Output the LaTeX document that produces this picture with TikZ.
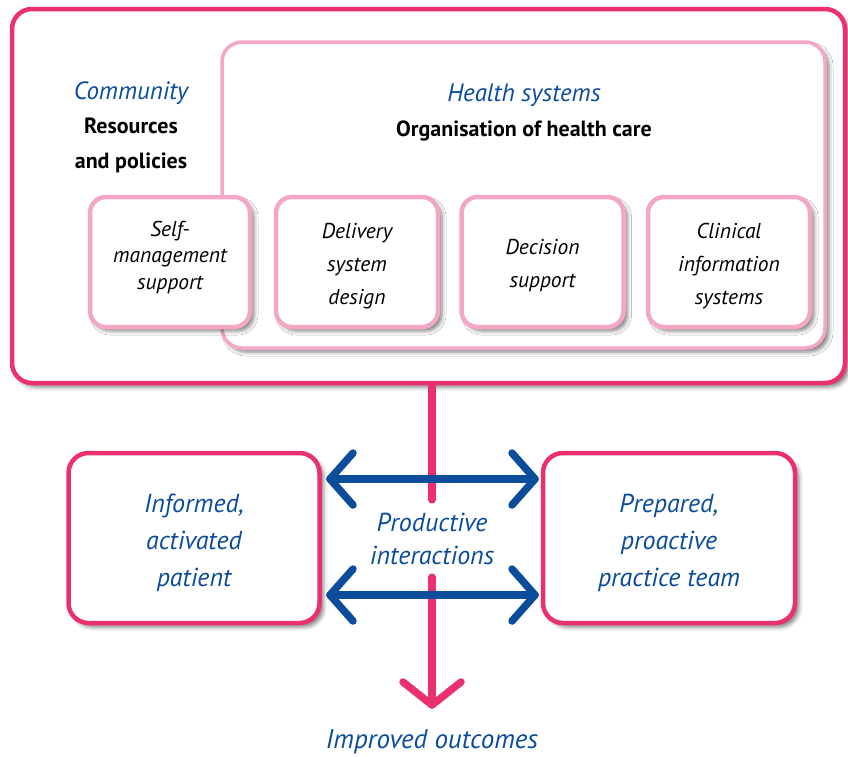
\documentclass[tikz,border=0pt]{standalone}
\usepackage{fontspec}
\setmainfont{PT Sans}
\usetikzlibrary{shadows.blur}
\definecolor{deeppink}{HTML}{EA3071}
\definecolor{lightpink}{HTML}{F3A6C6}
\definecolor{hblue}{HTML}{0B4C9B}
\tikzset{
  myshadow/.style={blur shadow={shadow xshift=4pt, shadow yshift=-4pt, shadow blur radius=4pt, shadow opacity=50}},
  outerbox/.style={draw=deeppink, line width=4.5pt, rounded corners=20pt, fill=white, myshadow},
  healthbox/.style={draw=lightpink, line width=3.5pt, rounded corners=20pt, fill=white, myshadow},
  compbox/.style={draw=lightpink, line width=4.5pt, rounded corners=16pt, fill=white, myshadow,
    minimum width=162pt, minimum height=130pt, inner sep=0pt},
  comptext/.style={align=center, inner sep=0pt, font=\fontsize{21.5}{33}\selectfont\itshape},
  actorbox/.style={draw=deeppink, line width=4.5pt, rounded corners=20pt, fill=white, myshadow,
    minimum height=170pt, inner sep=0pt},
  actortext/.style={align=center, inner sep=0pt, text=hblue, font=\fontsize{26}{37}\selectfont\itshape},
  heading/.style={align=center, inner sep=0pt, font=\fontsize{22}{34.5}\selectfont\bfseries},
  subhead/.style={font=\fontsize{25}{34.5}\selectfont\mdseries\itshape, text=hblue},
  bluetext/.style={text=hblue, font=\fontsize{26}{33}\selectfont\itshape, align=center, inner sep=0pt},
  pinkline/.style={draw=deeppink, line width=7.5pt, line cap=round, line join=round},
  blueline/.style={draw=hblue, line width=7.5pt, line cap=round, line join=round},
}
\begin{document}
\begin{tikzpicture}[x=1pt,y=-1pt]
\useasboundingbox (0,0) rectangle (848,756);
% outer community box
\node[outerbox, minimum width=833pt, minimum height=374pt] (outer) at (428.5,196) {};
% health systems box
\node[healthbox, minimum width=603pt, minimum height=306pt] (health) at (523.5,195) {};
% headings
\node[heading] (comm) at (131,127) {{\color{hblue}\mdseries\itshape\fontsize{25}{34.5}\selectfont Community}\\ Resources\\ and policies};
\node[heading] (hs) at (524,112.5) {{\color{hblue}\mdseries\itshape\fontsize{25}{34.5}\selectfont Health systems}\\ Organisation of health care};
% component boxes
\node[compbox, minimum width=160pt] (self) at (170,262) {};
\node[compbox] (deliv) at (357,262) {};
\node[compbox] (decis) at (542.5,262) {};
\node[compbox] (clin) at (729,262) {};
\node[comptext, font=\fontsize{21.5}{26.5}\selectfont\itshape] (self-t) at ([yshift=5pt]self.center) {Self-\\management\\support};
\node[comptext] (deliv-t) at ([yshift=-4pt]deliv.center) {Delivery\\system\\design};
\node[comptext] (decis-t) at ([yshift=-4pt]decis.center) {Decision\\support};
\node[comptext] (clin-t) at ([yshift=-4pt]clin.center) {Clinical\\information\\systems};
% actor boxes
\node[actorbox, minimum width=251pt] (pat) at (194,538) {};
\node[actorbox, minimum width=252pt] (team) at (669,538) {};
\node[actortext] (pat-t) at ([yshift=-5pt]pat.center) {Informed,\\activated\\patient};
\node[actortext] (team-t) at ([yshift=-5pt]team.center) {Prepared,\\proactive\\practice team};
% productive interactions
\node[bluetext, minimum height=77pt] (prod) at (432,538.5) {Productive\\interactions};
\node[bluetext, font=\fontsize{27}{33}\selectfont\itshape] (outc) at (432,742) {Improved outcomes};
% vertical pink connector
\coordinate (tip) at (432,705);
\draw[pinkline] (prod.north |- outer.south) -- (prod.north);
\draw[pinkline] (prod.south) -- (tip);
\draw[pinkline] (tip) ++(-29,-23) -- (tip) -- ++(29,-23);
% blue double arrows
\coordinate (a1) at (330,479);
\coordinate (b1) at (535,479);
\coordinate (a2) at (330,595);
\coordinate (b2) at (535,595);
\draw[blueline] (a1) -- (b1);
\draw[blueline] (a2) -- (b2);
\draw[blueline] (a1) ++(23,-26) -- (a1) -- ++(23,26);
\draw[blueline] (b1) ++(-23,-26) -- (b1) -- ++(-23,26);
\draw[blueline] (a2) ++(23,-26) -- (a2) -- ++(23,26);
\draw[blueline] (b2) ++(-23,-26) -- (b2) -- ++(-23,26);
\end{tikzpicture}
\end{document}
